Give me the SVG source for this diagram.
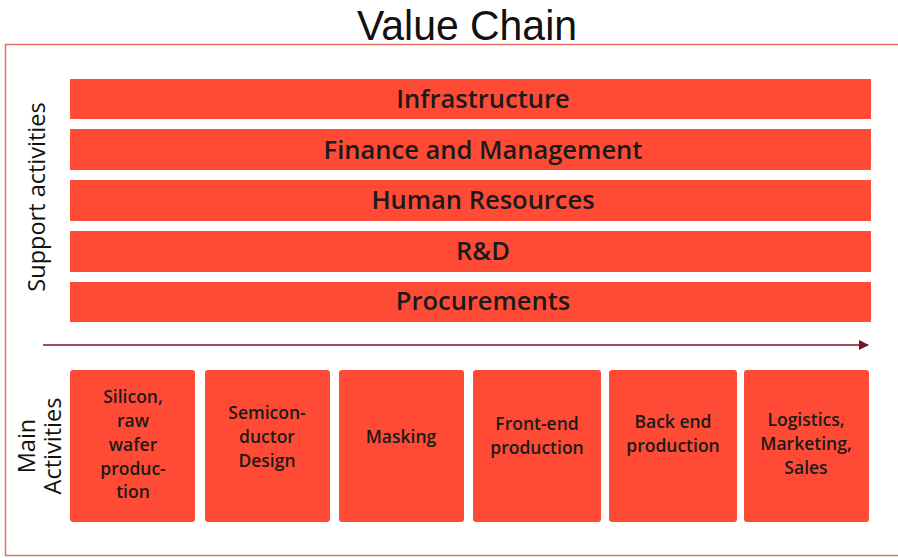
<svg xmlns="http://www.w3.org/2000/svg" width="898" height="558" viewBox="0 0 898 558">
<defs>
<style>
.bar{fill:#ff4b36}
.box{fill:#ff4b36}
.bt{font-family:"Open Sans",Lato,"Liberation Sans",sans-serif;font-size:25.5px;font-weight:600;fill:#1a1a1a;text-anchor:middle}
.st{font-family:"Open Sans",Lato,"Liberation Sans",sans-serif;font-size:17.5px;font-weight:600;fill:#1a1a1a;text-anchor:middle}
.side{font-family:"Open Sans",Lato,"Liberation Sans",sans-serif;font-size:23.5px;fill:#111;text-anchor:middle}
</style>
<marker id="ah" viewBox="0 0 10 10" refX="9" refY="5" markerWidth="10" markerHeight="10" markerUnits="userSpaceOnUse" orient="auto">
<path d="M0,0 L10,5 L0,10 z" fill="#7a1425"/>
</marker>
</defs>
<rect width="898" height="558" fill="#ffffff"/>
<text x="467" y="40" font-family="'Liberation Sans',sans-serif" font-size="43" fill="#111" text-anchor="middle" textLength="220" lengthAdjust="spacingAndGlyphs">Value Chain</text>
<rect x="5.5" y="44.5" width="900" height="511" fill="none" stroke="#e8705f" stroke-width="1.5"/>
<text class="side" transform="translate(45,197) rotate(-90)">Support activities</text>
<text class="side" font-size="22" transform="translate(35,446) rotate(-90)">Main</text>
<text class="side" font-size="22" transform="translate(61,446) rotate(-90)">Activities</text>
<g id="connectors">
<line x1="43" y1="345" x2="868" y2="345" stroke="#7a1425" stroke-width="1.6" marker-end="url(#ah)"/>
</g>
<g id="infrastructure"><rect class="bar" x="70" y="79" width="801" height="40"/><text class="bt" x="483" y="108">Infrastructure</text></g>
<g id="finance"><rect class="bar" x="70" y="129" width="801" height="41"/><text class="bt" x="483" y="159">Finance and Management</text></g>
<g id="hr"><rect class="bar" x="70" y="180" width="801" height="41"/><text class="bt" x="483" y="209">Human Resources</text></g>
<g id="rnd"><rect class="bar" x="70" y="231" width="801" height="41"/><text class="bt" x="483" y="260">R&amp;D</text></g>
<g id="procurements"><rect class="bar" x="70" y="282" width="801" height="40"/><text class="bt" x="483" y="310">Procurements</text></g>
<g id="silicon"><rect class="box" x="70" y="370" width="125" height="152" rx="3"/>
<text class="st" x="133" y="403">Silicon,</text><text class="st" x="133" y="427">raw</text><text class="st" x="133" y="451">wafer</text><text class="st" x="133" y="475">produc-</text><text class="st" x="133" y="498">tion</text></g>
<g id="design"><rect class="box" x="205" y="370" width="125" height="152" rx="3"/>
<text class="st" x="267" y="419">Semicon-</text><text class="st" x="267" y="443">ductor</text><text class="st" x="267" y="467">Design</text></g>
<g id="masking"><rect class="box" x="339" y="370" width="125" height="152" rx="3"/>
<text class="st" x="401" y="443">Masking</text></g>
<g id="frontend"><rect class="box" x="473" y="370" width="128" height="152" rx="3"/>
<text class="st" x="537" y="430">Front-end</text><text class="st" x="537" y="454">production</text></g>
<g id="backend"><rect class="box" x="609" y="370" width="128" height="152" rx="3"/>
<text class="st" x="673" y="428">Back end</text><text class="st" x="673" y="452">production</text></g>
<g id="logistics"><rect class="box" x="744" y="370" width="125" height="152" rx="3"/>
<text class="st" x="806" y="426">Logistics,</text><text class="st" x="806" y="450">Marketing,</text><text class="st" x="806" y="474">Sales</text></g>
</svg>
